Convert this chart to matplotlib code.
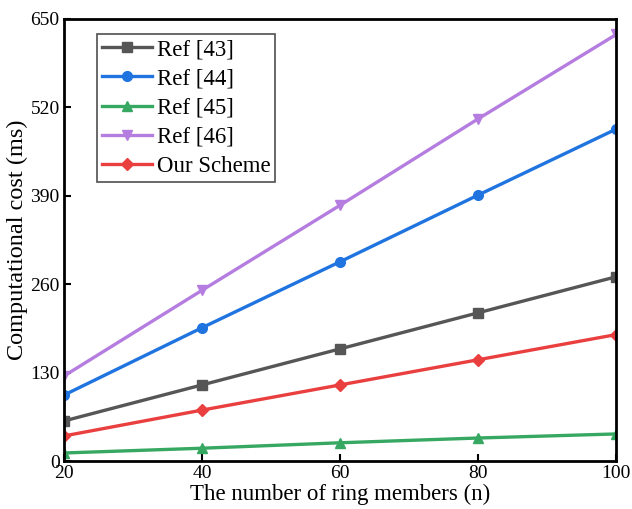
import matplotlib
matplotlib.use("Agg")
from matplotlib import pyplot as plt

plt.rcParams['font.family'] = ['Liberation Serif', 'DejaVu Serif']

members = [20, 40, 60, 80, 100]
ref43 = [59, 112, 165, 218, 271]
ref44 = [97, 196, 293, 391, 488]
ref45 = [12, 19, 27, 34, 40]
ref46 = [125, 251, 376, 503, 627]
ours = [37, 75, 112, 149, 186]

series = [
    ("Ref [43]", ref43, "#565656", "s"),
    ("Ref [44]", ref44, "#1f74e0", "o"),
    ("Ref [45]", ref45, "#36a862", "^"),
    ("Ref [46]", ref46, "#b47ddf", "v"),
    ("Our Scheme", ours, "#ea3f3f", "D"),
]

fig = plt.figure(figsize=(6.32, 5.09), dpi=100)
ax = fig.add_axes([0.101, 0.094, 0.874, 0.869])

for name, vals, col, mk in series:
    ms = 7 if mk != "D" else 6
    ax.plot(members, vals, color=col, marker=mk, markersize=ms, linewidth=2.4, label=name)

ax.set_xlim(20, 100)
ax.set_ylim(0, 650)
ax.set_xticks([20, 40, 60, 80, 100])
ax.set_yticks([0, 130, 260, 390, 520, 650])
ax.tick_params(direction='in', length=5, width=1.5, labelsize=14, top=False, right=False, pad=3)
for sp in ax.spines.values():
    sp.set_linewidth(2)

ax.set_xlabel("The number of ring members (n)", fontsize=16.5, labelpad=1)
ax.set_ylabel("Computational cost (ms)", fontsize=17.5, labelpad=2)

leg = ax.legend(loc='upper left', bbox_to_anchor=(0.052, 0.975), fontsize=16.5, frameon=True,
                fancybox=False, edgecolor='#222222', handlelength=2.2, handletextpad=0.2,
                labelspacing=0.36, borderpad=0.2, borderaxespad=0.2)
leg.get_frame().set_linewidth(1.2)

fig.savefig("out.png", dpi=100)
